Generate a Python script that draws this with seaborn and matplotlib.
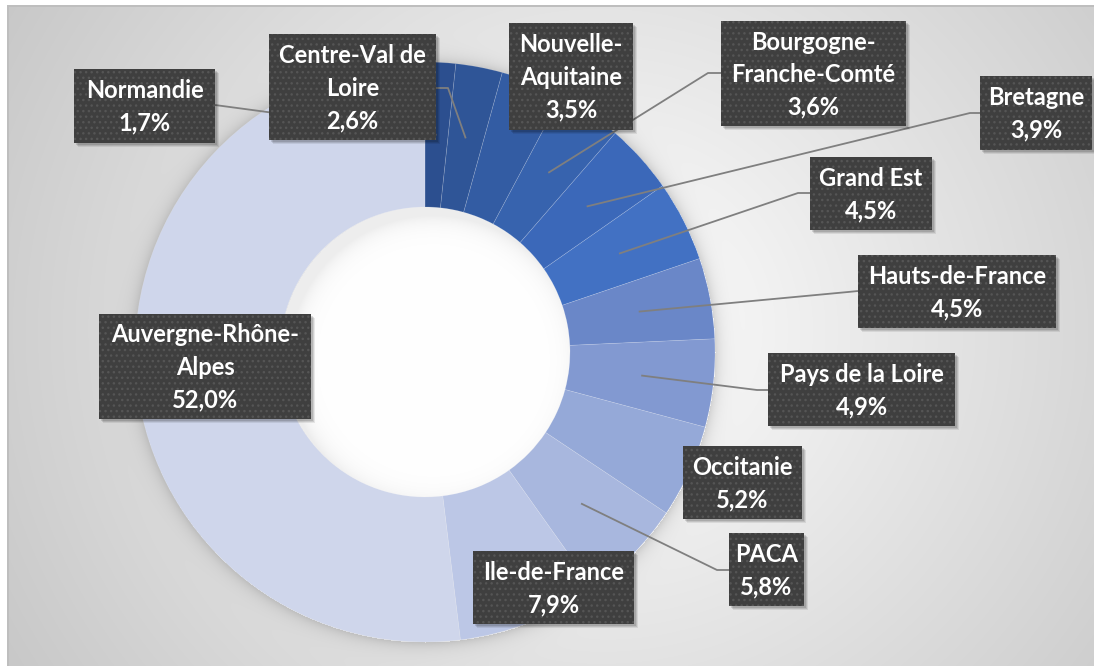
import numpy as np
import matplotlib
matplotlib.use("Agg")
import matplotlib.pyplot as plt
from matplotlib.patches import Rectangle
import seaborn as sns

# data (share of each region, clockwise from 12 o'clock)
regions = ["Normandie", "Centre-Val de Loire", "Nouvelle-Aquitaine",
           "Bourgogne-Franche-Comté", "Bretagne", "Grand Est",
           "Hauts-de-France", "Pays de la Loire", "Occitanie", "PACA",
           "Ile-de-France", "Auvergne-Rhône-Alpes"]
shares = [1.7, 2.6, 3.5, 3.6, 3.9, 4.5, 4.5, 4.9, 5.2, 5.8, 7.9, 52.0]
slice_colors = ["#2c4f8f", "#2f5597", "#335ca3", "#3763ae", "#3b68b9",
                "#4271c3", "#6a87c8", "#8299d1", "#95a9d8", "#a8b7de",
                "#bcc7e6", "#cfd6eb"]

# how the names wrap inside the label boxes
wrapped = {"Centre-Val de Loire": "Centre-Val de\nLoire",
           "Nouvelle-Aquitaine": "Nouvelle-\nAquitaine",
           "Bourgogne-Franche-Comté": "Bourgogne-\nFranche-Comté",
           "Auvergne-Rhône-Alpes": "Auvergne-Rhône-\nAlpes"}

W, H = 1094, 666
CX, CY, R = 425, 352, 290  # donut centre / outer radius in pixels (y down)

# label boxes (x0, y0, x1, y1) in pixels, y down
boxes = {"Normandie": (74, 69, 215, 143),
         "Centre-Val de Loire": (269, 34, 436, 140),
         "Nouvelle-Aquitaine": (509, 23, 633, 130),
         "Bourgogne-Franche-Comté": (721, 21, 906, 126),
         "Bretagne": (980, 76, 1092, 150),
         "Grand Est": (810, 157, 932, 230),
         "Hauts-de-France": (858, 255, 1056, 328),
         "Pays de la Loire": (768, 353, 955, 426),
         "Occitanie": (683, 446, 802, 519),
         "PACA": (729, 533, 804, 606),
         "Ile-de-France": (473, 551, 634, 624),
         "Auvergne-Rhône-Alpes": (99, 314, 311, 419)}

# leader lines: start on the box and optional elbow, pixels y down
leaders = {"Normandie": [(215, 105)],
           "Centre-Val de Loire": [(436, 88), (448, 88)],
           "Bourgogne-Franche-Comté": [(721, 73), (708, 73)],
           "Bretagne": [(980, 113), (970, 113)],
           "Grand Est": [(810, 193), (798, 193)],
           "Hauts-de-France": [(858, 291), (848, 292)],
           "Pays de la Loire": [(768, 390), (757, 390)],
           "PACA": [(729, 570), (717, 570)]}

sns.set_theme(style="white")
plt.rcParams["font.family"] = ["Lato", "DejaVu Sans"]


def to_data(x, y):
    return x, H - y


# background: soft radial gradient, glow around the ring, shaded hole
yy, xx = np.mgrid[0:H, 0:W].astype(float)
d = np.hypot(xx - 600, (yy - 330) * 1.05)
val = np.clip(255 - 0.08 * d, 196, 255)
r = np.hypot(xx - CX, yy - CY)
glow = np.where(r > R, 0.14 * np.exp(-(r - R) / 7.0), 0)
val = val * (1 - glow)
rs = np.hypot(xx - (CX + 8), yy - (CY + 8))
hole = r < R / 2
shade = np.clip(0.07 * np.exp(-(R / 2 - rs) / 10.0), 0, 0.07)
val = np.where(hole, 255 * (1 - shade), val)
val[:5, :] = 255
val[:, :7] = 255
val[5:7, 7:] = 190
val[5:, 7:9] = 190
bg = np.repeat((val / 255.0)[:, :, None], 3, axis=2)

fig = plt.figure(figsize=(W / 100, H / 100), dpi=100)
ax = fig.add_axes([0, 0, 1, 1])
ax.imshow(bg, extent=(0, W, 0, H), origin="upper", zorder=0,
          interpolation="bilinear")

wedges, _ = ax.pie(shares, colors=slice_colors, startangle=90,
                   counterclock=False, radius=R, center=to_data(CX, CY),
                   wedgeprops=dict(width=R / 2, edgecolor=(1, 1, 1, 0.18),
                                   linewidth=0.5))
for w in wedges:
    w.set_zorder(2)

# leader lines end at the middle of each slice, 3/4 out on the ring
for name, pts in leaders.items():
    w = wedges[regions.index(name)]
    mid = np.deg2rad((w.theta1 + w.theta2) / 2)
    ex = w.center[0] + 0.75 * w.r * np.cos(mid)
    ey = w.center[1] + 0.75 * w.r * np.sin(mid)
    xs = [to_data(*p)[0] for p in pts] + [ex]
    ys = [to_data(*p)[1] for p in pts] + [ey]
    ax.plot(xs, ys, color="#7f7f7f", lw=1.3, zorder=3,
            solid_capstyle="butt")

for name, v in zip(regions, shares):
    x0, y0, x1, y1 = boxes[name]
    bx, by = to_data(x0, y1)
    bw, bh = x1 - x0, y1 - y0
    for off, a in [(4, 0.08), (3, 0.1), (2, 0.12)]:
        ax.add_patch(Rectangle((bx + off, by - off), bw, bh, color="black",
                               alpha=a, lw=0, zorder=4))
    ax.add_patch(Rectangle((bx, by), bw, bh, facecolor="#3f3f3f", lw=0,
                           zorder=5))
    ax.add_patch(Rectangle((bx, by), bw, bh, facecolor="none",
                           edgecolor="#555555", hatch="...", lw=0,
                           zorder=5))
    label = wrapped.get(name, name) + "\n" + f"{v:.1f}".replace(".", ",") + "%"
    ax.text(bx + bw / 2, by + bh / 2 - 1, label, ha="center", va="center",
            multialignment="center", color="white", fontsize=17,
            fontweight="bold", linespacing=1.5, zorder=6)

ax.set_xlim(0, W)
ax.set_ylim(0, H)
ax.set_aspect("auto")
ax.axis("off")
fig.savefig("out.png", dpi=100)
